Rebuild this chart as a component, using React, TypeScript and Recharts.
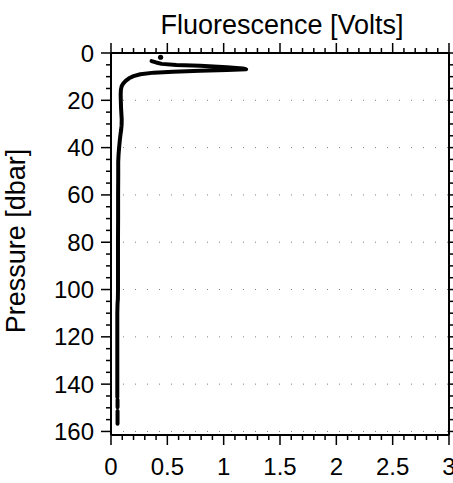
import { ComposedChart, Line, Scatter, XAxis, YAxis, CartesianGrid } from "recharts";

// CTD cast: fluorescence (V) against pressure (dbar)
const pressure = [
  3.4, 4.0, 4.6, 5.1, 5.4, 6.0, 6.5, 6.9, 7.2, 7.5, 7.9, 8.3, 9.0, 9.8, 10.7,
  11.8, 12.8, 14.0, 15.5, 17.5, 20, 23, 25.5, 28, 30.5, 32.5, 34.5, 37, 40, 43,
  46, 52, 60, 70, 80, 90, 100, 104, 106, 110, 120, 130, 140, 145.5, null, 146.6,
  148, 149.8, null, 151.4, 154, 156.7,
];
const fluorescence = [
  0.36, 0.4, 0.45, 0.58, 0.79, 1.03, 1.17, 1.2, 1.03, 0.79, 0.55, 0.38, 0.26,
  0.2, 0.16, 0.13, 0.11, 0.095, 0.088, 0.086, 0.087, 0.089, 0.092, 0.095, 0.094,
  0.09, 0.084, 0.078, 0.072, 0.067, 0.064, 0.064, 0.063, 0.063, 0.062, 0.062,
  0.062, 0.061, 0.058, 0.056, 0.056, 0.056, 0.056, 0.056, null, 0.058, 0.058,
  0.058, null, 0.058, 0.058, 0.058,
];
// lone sample just above the profile start
const spikeFl = [0.44];
const spikeP = [1.8];

const xMajorTicks = [0, 0.5, 1, 1.5, 2, 2.5, 3];
const xMinorTicks = [
  0.1, 0.2, 0.3, 0.4, 0.6, 0.7, 0.8, 0.9, 1.1, 1.2, 1.3, 1.4, 1.6, 1.7, 1.8,
  1.9, 2.1, 2.2, 2.3, 2.4, 2.6, 2.7, 2.8, 2.9,
];
const yMajorTicks = [0, 20, 40, 60, 80, 100, 120, 140, 160];
const yMinorTicks = [
  5, 10, 15, 25, 30, 35, 45, 50, 55, 65, 70, 75, 85, 90, 95, 105, 110, 115, 125,
  130, 135, 145, 150, 155,
];
const gridPressures = [20, 40, 60, 80, 100, 120, 140, 160];

const profile = pressure.map((p, i) => ({ p, fl: fluorescence[i] }));
const spike = spikeP.map((p, i) => ({ p, fl: spikeFl[i] }));
const xTicks = [...xMajorTicks, ...xMinorTicks].sort((a, b) => a - b);
const yTicks = [...yMajorTicks, ...yMinorTicks].sort((a, b) => a - b);

const FONT = "'Liberation Sans', Arial, Helvetica, sans-serif";
const TICK_FS = 24;
const TITLE_FS = 27;
const EXTRA = 5; // majors are 10px, built-in tick line is 5px
const tickStroke = { stroke: "#000", strokeWidth: 1.5 };
const frame = { stroke: "#000", strokeWidth: 2 };

const isMajorX = (v: number) => xMajorTicks.includes(v);
const isMajorY = (v: number) => yMajorTicks.includes(v);

// y arrives 5px below the frame (end of the built-in tick line)
const BottomTick = ({ x, y, payload }: any) => {
  if (!isMajorX(payload.value)) return <g />;
  return (
    <g>
      <line x1={x} x2={x} y1={y} y2={y + EXTRA} stroke="#000" strokeWidth={1.5} />
      <text x={x} y={y + 35} textAnchor="middle" fontSize={TICK_FS} fontFamily={FONT} fill="#000">
        {String(payload.value)}
      </text>
    </g>
  );
};

const TopTick = ({ x, y, payload }: any) =>
  isMajorX(payload.value) ? (
    <line x1={x} x2={x} y1={y - EXTRA} y2={y} stroke="#000" strokeWidth={1.5} />
  ) : (
    <g />
  );

const LeftTick = ({ x, y, payload }: any) => {
  if (!isMajorY(payload.value)) return <g />;
  return (
    <g>
      <line x1={x - EXTRA} x2={x} y1={y} y2={y} stroke="#000" strokeWidth={1.5} />
      <text x={x - 12} y={y + 8.5} textAnchor="end" fontSize={TICK_FS} fontFamily={FONT} fill="#000">
        {String(payload.value)}
      </text>
    </g>
  );
};

const RightTick = ({ x, y, payload }: any) =>
  isMajorY(payload.value) ? (
    <line x1={x} x2={x + EXTRA} y1={y} y2={y} stroke="#000" strokeWidth={1.5} />
  ) : (
    <g />
  );

const SpikeDot = ({ cx, cy }: any) => <circle cx={cx} cy={cy} r={2.6} fill="#000" />;

export default function App() {
  return (
    <div style={{ position: "absolute", left: 0, top: 0, background: "#fff" }}>
      <ComposedChart
        width={453}
        height={483}
        data={profile}
        margin={{ top: 33, right: 0, bottom: 8, left: 51 }}
      >
        <CartesianGrid
          xAxisId="bottom"
          yAxisId="left"
          vertical={false}
          horizontalValues={gridPressures}
          stroke="#808080"
          strokeDasharray="1 11"
        />
        <XAxis
          xAxisId="bottom"
          dataKey="fl"
          type="number"
          orientation="bottom"
          domain={[0, 3]}
          allowDataOverflow
          ticks={xTicks}
          interval={0}
          height={40}
          tickSize={5}
          tickMargin={0}
          tickLine={tickStroke}
          tick={<BottomTick />}
          axisLine={frame}
        />
        <XAxis
          xAxisId="top"
          dataKey="fl"
          type="number"
          orientation="top"
          domain={[0, 3]}
          allowDataOverflow
          ticks={xTicks}
          interval={0}
          height={20}
          tickSize={5}
          tickMargin={0}
          tickLine={tickStroke}
          tick={<TopTick />}
          axisLine={frame}
          label={{
            content: ({ viewBox }: any) => (
              <text
                x={viewBox.x + viewBox.width / 2 + 2}
                y={viewBox.y + viewBox.height - 19}
                textAnchor="middle"
                fontSize={TITLE_FS}
                fontFamily={FONT}
                fill="#000"
              >
                Fluorescence [Volts]
              </text>
            ),
          }}
        />
        <YAxis
          yAxisId="left"
          dataKey="p"
          type="number"
          orientation="left"
          reversed
          domain={[0, 161.5]}
          allowDataOverflow
          ticks={yTicks}
          interval={0}
          width={60}
          tickSize={5}
          tickMargin={0}
          tickLine={tickStroke}
          tick={<LeftTick />}
          axisLine={frame}
          label={{
            content: ({ viewBox }: any) => {
              const cx = 25;
              const cy = viewBox.y + viewBox.height / 2 - 3;
              return (
                <text
                  x={cx}
                  y={cy}
                  transform={`rotate(-90, ${cx}, ${cy})`}
                  textAnchor="middle"
                  fontSize={TITLE_FS}
                  fontFamily={FONT}
                  fill="#000"
                >
                  Pressure [dbar]
                </text>
              );
            },
          }}
        />
        <YAxis
          yAxisId="right"
          dataKey="p"
          type="number"
          orientation="right"
          reversed
          domain={[0, 161.5]}
          allowDataOverflow
          ticks={yTicks}
          interval={0}
          width={4}
          tickSize={5}
          tickMargin={0}
          tickLine={tickStroke}
          tick={<RightTick />}
          axisLine={frame}
        />
        <Line
          xAxisId="bottom"
          yAxisId="left"
          dataKey="p"
          type="linear"
          stroke="#000"
          strokeWidth={4}
          strokeLinecap="round"
          strokeLinejoin="round"
          dot={false}
          activeDot={false}
          connectNulls={false}
          isAnimationActive={false}
        />
        <Scatter
          xAxisId="bottom"
          yAxisId="left"
          data={spike}
          shape={<SpikeDot />}
          isAnimationActive={false}
        />
      </ComposedChart>
    </div>
  );
}
